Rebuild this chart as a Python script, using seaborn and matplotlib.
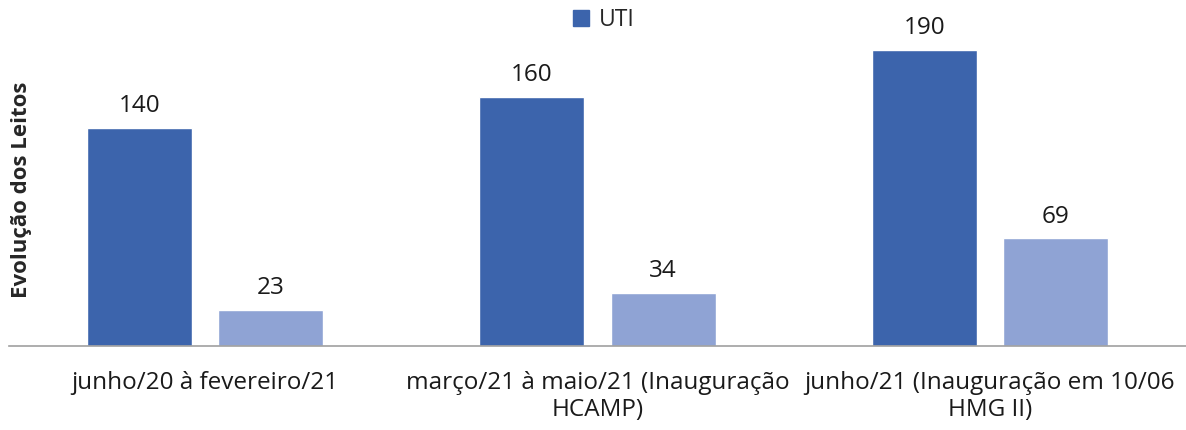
import pandas as pd
import matplotlib
matplotlib.use("Agg")
import matplotlib.pyplot as plt
import seaborn as sns

# Data
periodos = [
    "junho/20 à fevereiro/21",
    "março/21 à maio/21 (Inauguração\nHCAMP)",
    "junho/21 (Inauguração em 10/06\nHMG II)",
]
uti = [140, 160, 190]
outros = [23, 34, 69]
series = ["UTI", "Enfermaria"]
cores = ["#3C64AC", "#8FA3D4"]

df = pd.DataFrame({
    "periodo": periodos * 2,
    "leitos": uti + outros,
    "tipo": [series[0]] * 3 + [series[1]] * 3,
})

sns.set_style("white")
plt.rcParams["font.family"] = ["Open Sans", "DejaVu Sans"]

fig = plt.figure(figsize=(11.86, 4.30), dpi=100)
ax = fig.add_axes([9 / 1186, 84 / 430, 1177 / 1186, 346 / 430])

sns.barplot(data=df, x="periodo", y="leitos", hue="tipo", palette=cores,
            width=0.67, gap=0.2, saturation=1, ax=ax, legend=False)

for cont in ax.containers:
    ax.bar_label(cont, padding=7, fontsize=17.5, color="#1a1a1a")

ax.set_ylim(0, 222)
ax.set_xlim(-0.5, 2.5)
ax.set_yticks([])
ax.set_xlabel("")
ax.set_ylabel("")
for s in ["top", "right", "left"]:
    ax.spines[s].set_visible(False)
ax.spines["bottom"].set_color("#A0A0A0")
ax.spines["bottom"].set_linewidth(1.2)
ax.tick_params(axis="x", length=0, pad=18, labelsize=17.5, labelcolor="#1a1a1a")
for lbl in ax.get_xticklabels():
    lbl.set_linespacing(1.15)

fig.text(22 / 1186, 1 - 190 / 430, "Evolução dos Leitos", rotation=90,
         ha="center", va="center", fontsize=16, fontweight="bold")

# legend shows only the first series, as in the source
handle = plt.Rectangle((0, 0), 1, 1, color=cores[0])
fig.legend([handle], [series[0]], loc="center", bbox_to_anchor=(604 / 1186, 1 - 20 / 430),
           frameon=False, fontsize=16.5, handlelength=0.7, handleheight=0.7,
           handletextpad=0.45)

fig.savefig("out.png", dpi=100)
